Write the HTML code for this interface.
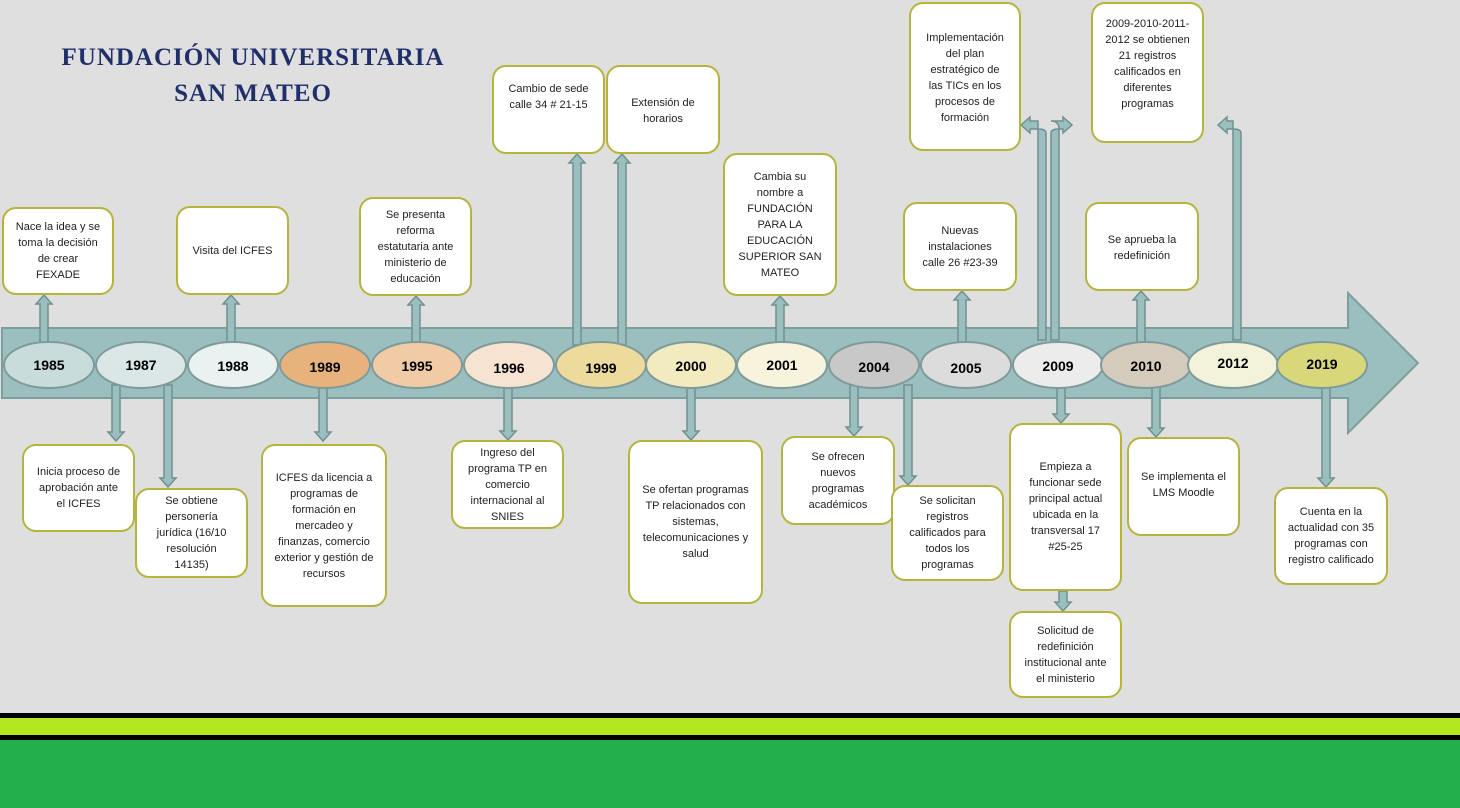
<!DOCTYPE html>
<html><head><meta charset="utf-8"><style>
body{margin:0;width:1460px;height:808px;overflow:hidden;background:#dfdfdf;font-family:"Liberation Sans",sans-serif;position:relative}
.b{position:absolute;box-sizing:border-box;background:#fff;border:2px solid #b7b43a;border-radius:14px;display:flex;align-items:center;justify-content:center;text-align:center;font-size:11px;line-height:16px;color:#222;padding:4px 11px}
.t{align-items:flex-start;padding-top:14px}
.y{position:absolute;font-weight:bold;font-size:14px;width:90px;text-align:center}
.title{position:absolute;left:30px;top:40px;width:446px;text-align:center;font-family:"Liberation Serif",serif;font-weight:bold;color:#1f2f6a;font-size:25px;line-height:36px;letter-spacing:1px;white-space:nowrap}
svg{position:absolute;left:0;top:0}
</style></head><body>
<svg id="s" width="1460" height="808">
<rect x="0" y="713" width="1460" height="5" fill="#000"/>
<rect x="0" y="718" width="1460" height="17" fill="#b3e720"/>
<rect x="0" y="735" width="1460" height="5" fill="#000"/>
<rect x="0" y="740" width="1460" height="68" fill="#23b04c"/>
<polygon points="2,328 1348,328 1348,293 1418,363 1348,433 1348,398 2,398" fill="#9bbfbf" stroke="#7e9e9e" stroke-width="2"/>
</svg>
<div class="title">FUNDACIÓN UNIVERSITARIA<br>SAN MATEO</div>

<div class="b" style="left:2px;top:207px;width:112px;height:88px">Nace la idea y se toma la decisión de crear FEXADE</div>
<div class="b" style="left:176px;top:206px;width:113px;height:89px">Visita del ICFES</div>
<div class="b" style="left:359px;top:197px;width:113px;height:99px">Se presenta reforma estatutaria ante ministerio de educación</div>
<div class="b t" style="left:492px;top:65px;width:113px;height:89px">Cambio de sede calle 34 # 21-15</div>
<div class="b t" style="left:606px;top:65px;width:114px;height:89px;padding-top:28px">Extensión de horarios</div>
<div class="b" style="left:723px;top:153px;width:114px;height:143px">Cambia su nombre a FUNDACIÓN PARA LA EDUCACIÓN SUPERIOR SAN MATEO</div>
<div class="b" style="left:903px;top:202px;width:114px;height:89px">Nuevas instalaciones calle 26 #23-39</div>
<div class="b t" style="left:909px;top:2px;width:112px;height:149px;padding-top:26px">Implementación del plan estratégico de las TICs en los procesos de formación</div>
<div class="b t" style="left:1085px;top:202px;width:114px;height:89px;padding-top:28px">Se aprueba la redefinición</div>
<div class="b t" style="left:1091px;top:2px;width:113px;height:141px;padding-top:12px">2009-2010-2011-2012 se obtienen 21 registros calificados en diferentes programas</div>

<div class="b" style="left:22px;top:444px;width:113px;height:88px">Inicia proceso de aprobación ante el ICFES</div>
<div class="b" style="left:135px;top:488px;width:113px;height:90px">Se obtiene personería jurídica (16/10 resolución 14135)</div>
<div class="b" style="left:261px;top:444px;width:126px;height:163px">ICFES da licencia a programas de formación en mercadeo y finanzas, comercio exterior y gestión de recursos</div>
<div class="b" style="left:451px;top:440px;width:113px;height:89px">Ingreso del programa TP en comercio internacional al SNIES</div>
<div class="b" style="left:628px;top:440px;width:135px;height:164px">Se ofertan programas TP relacionados con sistemas, telecomunicaciones y salud</div>
<div class="b" style="left:781px;top:436px;width:114px;height:89px">Se ofrecen nuevos programas académicos</div>
<div class="b" style="left:891px;top:485px;width:113px;height:96px">Se solicitan registros calificados para todos los programas</div>
<div class="b" style="left:1009px;top:423px;width:113px;height:168px">Empieza a funcionar sede principal actual ubicada en la transversal 17 #25-25</div>
<div class="b" style="left:1009px;top:611px;width:113px;height:87px">Solicitud de redefinición institucional ante el ministerio</div>
<div class="b t" style="left:1127px;top:437px;width:113px;height:99px;padding-top:30px">Se implementa el LMS Moodle</div>
<div class="b" style="left:1274px;top:487px;width:114px;height:98px">Cuenta en la actualidad con 35 programas con registro calificado</div>

<div class="y" style="left:4px;top:357px">1985</div>
<div class="y" style="left:96px;top:357px">1987</div>
<div class="y" style="left:188px;top:358px">1988</div>
<div class="y" style="left:280px;top:359px">1989</div>
<div class="y" style="left:372px;top:358px">1995</div>
<div class="y" style="left:464px;top:360px">1996</div>
<div class="y" style="left:556px;top:360px">1999</div>
<div class="y" style="left:646px;top:358px">2000</div>
<div class="y" style="left:737px;top:357px">2001</div>
<div class="y" style="left:829px;top:359px">2004</div>
<div class="y" style="left:921px;top:360px">2005</div>
<div class="y" style="left:1013px;top:358px">2009</div>
<div class="y" style="left:1101px;top:358px">2010</div>
<div class="y" style="left:1188px;top:355px">2012</div>
<div class="y" style="left:1277px;top:356px">2019</div>
<script>
var s=document.getElementById('s'),NS='http://www.w3.org/2000/svg';
function el(t,a){var e=document.createElementNS(NS,t);for(var k in a)e.setAttribute(k,a[k]);s.appendChild(e);}
var F='#9bbfbf',S='#6f9090';
function up(x,y0,y1){el('polygon',{points:(x-4)+','+y0+' '+(x-4)+','+(y1+9)+' '+(x-8)+','+(y1+9)+' '+x+','+y1+' '+(x+8)+','+(y1+9)+' '+(x+4)+','+(y1+9)+' '+(x+4)+','+y0,fill:F,stroke:S,'stroke-width':1.5});}
function dn(x,y0,y1){el('polygon',{points:(x-4)+','+y0+' '+(x-4)+','+(y1-9)+' '+(x-8)+','+(y1-9)+' '+x+','+y1+' '+(x+8)+','+(y1-9)+' '+(x+4)+','+(y1-9)+' '+(x+4)+','+y0,fill:F,stroke:S,'stroke-width':1.5});}
function bend(x,y0,yt,xe){var d=xe<x?-1:1;var p='M'+(x-4)+','+y0+' V'+(yt+4)+' Q'+(x-4)+','+(yt-4)+' '+(x+4*d)+','+(yt-4)+' H'+(xe-9*d)+' V'+(yt-8)+' L'+xe+','+yt+' L'+(xe-9*d)+','+(yt+8)+' V'+(yt+4)+' H'+(x+4*d)+' Q'+(x+4)+','+(yt+4)+' '+(x+4)+','+(yt+8)+' V'+y0+' Z';
 if(d>0)p='M'+(x+4)+','+y0+' V'+(yt+4)+' Q'+(x+4)+','+(yt-4)+' '+(x-4*d)+','+(yt-4)+' H'+(xe-9*d)+' V'+(yt-8)+' L'+xe+','+yt+' L'+(xe-9*d)+','+(yt+8)+' V'+(yt+4)+' H'+(x+4)+' Q'+(x-4)+','+(yt+4)+' '+(x-4)+','+(yt+8)+' V'+y0+' Z';
 el('path',{d:p,fill:F,stroke:S,'stroke-width':1.5});}
up(44,345,295);up(231,345,295);up(416,345,296);up(577,345,154);up(622,345,154);up(780,345,296);up(962,345,291);up(1141,345,291);
bend(1042,340,125,1021);bend(1055,340,125,1072);bend(1237,340,125,1218);
dn(116,385,441);dn(168,385,487);dn(323,385,441);dn(508,385,440);dn(691,385,440);dn(854,385,436);dn(908,385,485);dn(1061,385,423);dn(1063,591,611);dn(1156,385,437);dn(1326,385,487);
var E=[[49,'#c8dcdc'],[141,'#dbe7e7'],[233,'#e9f1f1'],[325,'#e8b27c'],[417,'#f0cba6'],[509,'#f7e3d2'],[601,'#ecdb9c'],[691,'#f2ebc0'],[782,'#f7f3dc'],[874,'#c8c8c8'],[966,'#dcdcdc'],[1058,'#ececec'],[1146,'#d4cbbd'],[1233,'#f2f3da'],[1322,'#d8d87a']];
E.forEach(function(e){el('ellipse',{cx:e[0],cy:365,rx:45,ry:23,fill:e[1],stroke:'#7f9a9a','stroke-width':2});});
</script>
</body></html>
